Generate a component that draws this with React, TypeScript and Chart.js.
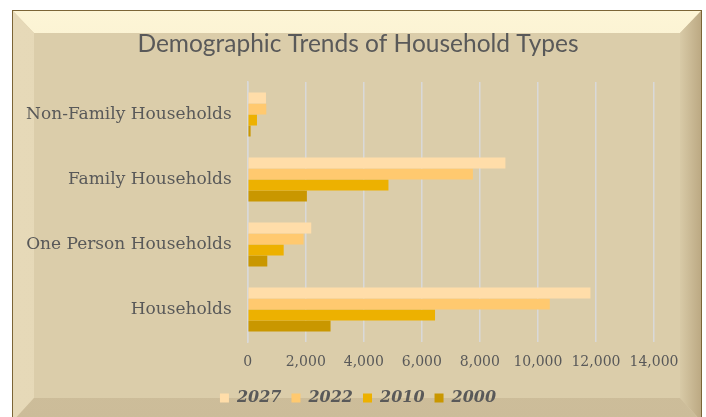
import React, { useEffect, useRef } from "react";
import { Chart, registerables } from "chart.js";

Chart.register(...registerables);

const categories = ["Non-Family Households", "Family Households", "One Person Households", "Households"];
const seriesNames = ["2027", "2022", "2010", "2000"];
const values2027 = [630, 8880, 2190, 11810];
const values2022 = [640, 7760, 1925, 10410];
const values2010 = [320, 4850, 1240, 6455];
const values2000 = [100, 2040, 675, 2855];
const seriesValues = [values2027, values2022, values2010, values2000];
const seriesColors = ["#FFDDA9", "#FFC96F", "#EDB100", "#C99700"];
const xMin = 0;
const xMax = 14000;
const xStep = 2000;
const titleText = "Demographic Trends of Household Types";

const TEXT = "#595959";

function fmt(v: number): string {
  return String(Math.round(v)).replace(/\B(?=(\d{3})+(?!\d))/g, ",");
}

export default function App() {
  const ref = useRef<HTMLCanvasElement | null>(null);

  useEffect(() => {
    if (!ref.current) return;
    const chart = new Chart(ref.current, {
      type: "bar",
      data: {
        labels: categories,
        datasets: seriesNames.map((name, i) => ({
          label: name,
          data: seriesValues[i],
          backgroundColor: seriesColors[i],
          borderWidth: 0,
          categoryPercentage: 0.68,
          barPercentage: 1,
        })),
      },
      options: {
        indexAxis: "y",
        responsive: false,
        animation: false,
        devicePixelRatio: 1,
        layout: { padding: { left: 62, right: 52, top: 0, bottom: 1 } },
        scales: {
          x: {
            min: xMin,
            max: xMax,
            ticks: {
              stepSize: xStep,
              color: TEXT,
              font: { family: "'DejaVu Serif'", size: 14 },
              padding: 12,
              callback: (v: any) => fmt(Number(v)),
            },
            grid: { color: "#D9D9D9", lineWidth: 1.5, drawTicks: false },
            border: { display: false },
            afterFit: (s: any) => {
              s.height = 38;
            },
          },
          y: {
            ticks: {
              color: TEXT,
              font: { family: "'DejaVu Serif'", size: 17 },
              padding: 16,
            },
            grid: { display: false, drawTicks: false },
            border: { display: true, color: "#D9D9D9", width: 1.5 },
            afterFit: (s: any) => {
              s.width = 185.7;
              s._computeLabelArea = () => undefined;
            },
          },
        },
        plugins: {
          title: {
            display: true,
            text: titleText,
            color: TEXT,
            font: { family: "Lato", size: 24.5, weight: "normal" },
            padding: { top: 29, bottom: 23.6 },
          },
          legend: {
            position: "bottom",
            labels: {
              boxWidth: 9,
              boxHeight: 9,
              padding: 10,
              color: TEXT,
              font: { family: "'DejaVu Serif'", size: 16, style: "italic", weight: "bold" },
            },
          },
          tooltip: { enabled: false },
        },
      },
    });
    return () => chart.destroy();
  }, []);

  const bevel = (clip: string, bg: string): React.CSSProperties => ({
    position: "absolute",
    inset: 0,
    clipPath: clip,
    background: bg,
  });

  return (
    <div style={{ position: "fixed", left: 0, top: 0, width: 706, height: 417, overflow: "hidden", background: "#FFFFFF" }}>
      <div
        style={{
          position: "absolute",
          left: 12,
          top: 10,
          width: 690,
          height: 412,
          boxSizing: "border-box",
          border: "1px solid #7C6536",
          background: "#DBCDAA",
          overflow: "hidden",
        }}
      >
        <div style={{ position: "absolute", left: 0, top: 0, width: 688, height: 410 }}>
          {/* top bevel */}
          <div style={bevel("polygon(0 0, 688px 0, 667px 22px, 21px 22px)", "linear-gradient(#FDF5D6, #E3D5B3)")} />
          {/* left bevel */}
          <div style={bevel("polygon(0 0, 21px 22px, 21px 387px, 0 410px)", "linear-gradient(90deg, #E6D9B8, #E0D2B0)")} />
          {/* right bevel */}
          <div style={bevel("polygon(688px 0, 688px 410px, 667px 387px, 667px 22px)", "linear-gradient(90deg, #D8CAA7 0px, #D8CAA7 667px, #BCA983 688px)")} />
          {/* bottom bevel */}
          <div style={bevel("polygon(21px 387px, 667px 387px, 688px 410px, 0 410px)", "linear-gradient(#D6C8A5, #CCBC99)")} />
        </div>
      </div>
      <canvas ref={ref} width={706} height={417} style={{ position: "absolute", left: 0, top: 0, width: 706, height: 417 }} />
    </div>
  );
}
